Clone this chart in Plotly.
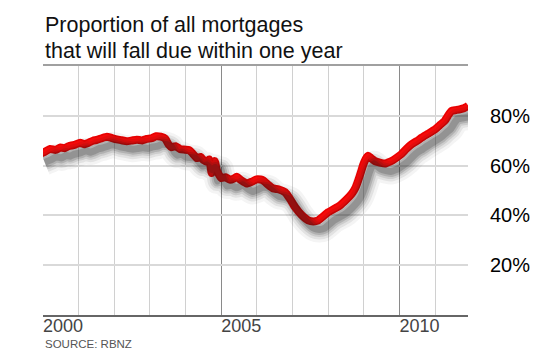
import plotly.graph_objects as go

# Data (year, % of mortgages due within one year)
years = [1999.88, 2000.05, 2000.2, 2000.35, 2000.49, 2000.6, 2000.72, 2000.88, 2001.04, 2001.16,
         2001.28, 2001.4, 2001.51, 2001.65, 2001.79, 2001.9, 2002.03, 2002.2, 2002.35, 2002.5,
         2002.63, 2002.78, 2002.91, 2003.05, 2003.17, 2003.3, 2003.43, 2003.52, 2003.6, 2003.72,
         2003.85, 2003.98, 2004.1, 2004.2, 2004.31, 2004.42, 2004.5, 2004.6, 2004.66, 2004.7,
         2004.73, 2004.78, 2004.82, 2004.87, 2004.93, 2005.0, 2005.12, 2005.25, 2005.35, 2005.43,
         2005.55, 2005.71, 2005.85, 2005.99, 2006.1, 2006.18, 2006.3, 2006.46, 2006.6, 2006.79,
         2006.92, 2007.07, 2007.25, 2007.44, 2007.58, 2007.72, 2007.85, 2008.0, 2008.15, 2008.33,
         2008.5, 2008.66, 2008.76, 2008.84, 2008.92, 2008.98, 2009.05, 2009.12, 2009.2, 2009.31,
         2009.45, 2009.59, 2009.72, 2009.82, 2009.95, 2010.06, 2010.2, 2010.34, 2010.48, 2010.62,
         2010.8, 2011.0, 2011.15, 2011.27, 2011.38, 2011.46, 2011.58, 2011.69, 2011.8, 2011.92]
values = [64.5, 65.5, 66.7, 66.3, 67.3, 67.0, 67.8, 68.3, 69.2, 68.6,
          69.2, 70.0, 70.3, 71.0, 71.6, 71.2, 70.6, 70.2, 69.8, 70.1,
          70.4, 70.1, 70.7, 71.0, 71.8, 71.6, 70.8, 68.5, 67.4, 67.8,
          66.6, 66.4, 66.2, 64.8, 63.0, 63.5, 62.2, 61.6, 62.5, 59.5,
          57.0, 59.8, 61.8, 58.5, 56.5, 55.0, 55.3, 54.3, 54.8, 55.5,
          54.2, 52.8, 53.5, 54.5, 54.4, 54.0, 52.5, 50.8, 50.5, 49.3,
          46.8, 43.3, 40.2, 38.0, 37.6, 38.0, 39.5, 41.3, 42.5, 44.0,
          46.2, 48.7, 51.0, 54.0, 57.5, 60.3, 62.7, 64.0, 63.0, 61.8,
          61.2, 60.8, 61.5, 62.2, 63.5, 64.7, 66.8, 68.6, 69.8, 71.2,
          72.8, 74.6, 76.5, 78.0, 80.5, 82.0, 82.3, 82.6, 83.0, 84.0]

x_major = [2000, 2005, 2010]
x_labels = ["2000", "2005", "2010"]
y_ticks = [0, 20, 40, 60, 80, 100]
y_labels = ["", "20%", "40%", "60%", "80%", ""]

title_lines = ["Proportion of all mortgages", "that will fall due within one year"]
source_text = "SOURCE: RBNZ"

X_RANGE = [2000, 2011.92]
Y_RANGE = [0, 100]
W, H = 550, 350
ML, MR, MT, MB = 43, 82, 66, 35

plot_h = H - MT - MB
px_per_year = (W - ML - MR) / (X_RANGE[1] - X_RANGE[0])
px_per_pct = plot_h / (Y_RANGE[1] - Y_RANGE[0])
SHADOW_DX, SHADOW_DY = 6, 8
sx = SHADOW_DX / px_per_year
sy = SHADOW_DY / px_per_pct


def paper_y(px_from_top):
    return (H - MB - px_from_top) / plot_h


FONT = "Arial, Liberation Sans, sans-serif"

fig = go.Figure()

# blurred drop shadow (same data drawn on offset axes)
for w, a in [(26, 0.05), (20, 0.08), (15, 0.11), (11, 0.15), (7, 0.2)]:
    fig.add_trace(go.Scatter(x=years, y=values, mode="lines", xaxis="x2", yaxis="y2",
                             line=dict(color=f"rgba(30,30,30,{a})", width=w, shape="spline",
                                       smoothing=0.4),
                             hoverinfo="skip", showlegend=False))

# main red line
fig.add_trace(go.Scatter(x=years, y=values, mode="lines",
                         line=dict(color="#f00000", width=8, shape="spline", smoothing=0.4),
                         showlegend=False))
fig.add_trace(go.Scatter(x=years, y=values, mode="lines",
                         line=dict(color="#ff0a0a", width=5, shape="spline", smoothing=0.4),
                         showlegend=False, hoverinfo="skip"))

annotations = [
    dict(text=title_lines[0], x=0, xref="paper", xanchor="left",
         y=paper_y(25), yref="paper", yanchor="middle", showarrow=False,
         font=dict(size=21.5, color="#111", family=FONT)),
    dict(text=title_lines[1], x=0, xref="paper", xanchor="left",
         y=paper_y(51), yref="paper", yanchor="middle", showarrow=False,
         font=dict(size=21.5, color="#111", family=FONT)),
    dict(text=source_text, x=0, xref="paper", xanchor="left",
         y=paper_y(344), yref="paper", yanchor="middle", showarrow=False,
         font=dict(size=11.5, color="#555", family=FONT)),
]

fig.update_layout(
    width=W, height=H,
    margin=dict(l=ML, r=MR, t=MT, b=MB),
    paper_bgcolor="white", plot_bgcolor="white",
    font=dict(family=FONT, color="black"),
    xaxis=dict(range=X_RANGE, tickvals=x_major, ticktext=x_labels,
               showgrid=True, gridcolor="#8a8a8a", gridwidth=1,
               minor=dict(dtick=1, tick0=2000, showgrid=True, gridcolor="#d0d0d0", gridwidth=1),
               showline=True, linecolor="#666", linewidth=1.5,
               ticks="", tickfont=dict(size=18, color="#444"),
               ticklabelshift=20, ticklabelstandoff=-6,
               zeroline=False, automargin=False),
    yaxis=dict(range=Y_RANGE, side="right", tickvals=y_ticks, ticktext=y_labels,
               showgrid=True, gridcolor="#d9d9d9", gridwidth=1.5,
               ticks="", tickfont=dict(size=20, color="black"),
               ticklabelstandoff=21, zeroline=False, showline=False, automargin=False),
    xaxis2=dict(range=[X_RANGE[0] - sx, X_RANGE[1] - sx], overlaying="x", side="top",
                showgrid=False, showticklabels=False, ticks="", zeroline=False,
                showline=True, linecolor="#a0a0a0", linewidth=1.5, automargin=False),
    yaxis2=dict(range=[Y_RANGE[0] + sy, Y_RANGE[1] + sy], overlaying="y",
                showgrid=False, showticklabels=False, ticks="", zeroline=False,
                showline=False, automargin=False),
    annotations=annotations,
)

fig.write_html("out.html")
